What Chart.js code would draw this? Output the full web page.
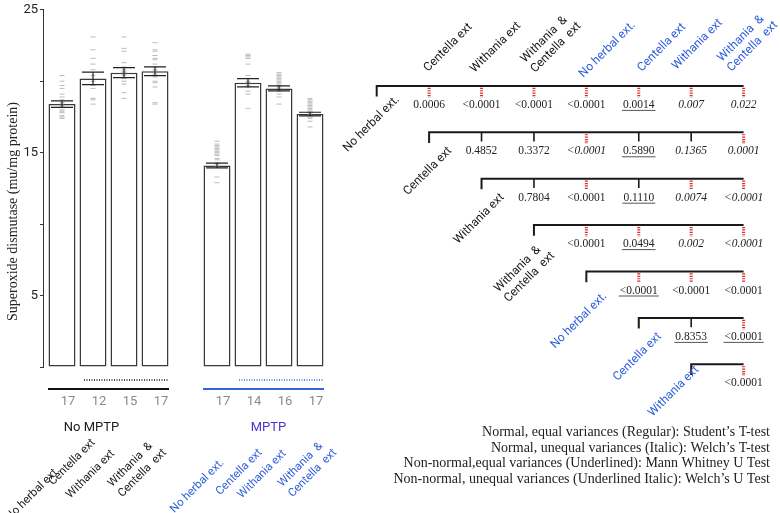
<!DOCTYPE html>
<html>
<head>
<meta charset="utf-8">
<script src="https://cdn.jsdelivr.net/npm/chart.js@4/dist/chart.umd.min.js"></script>
<style>
html, body { margin: 0; padding: 0; background: #fff; }
#wrap { position: relative; width: 780px; height: 513px; }
canvas { position: absolute; left: 0; top: 0; }
</style>
</head>
<body>
<div id="wrap">
<canvas id="barChart" width="780" height="513"></canvas>
<canvas id="pChart" width="780" height="513"></canvas>
</div>
<script>
let groups = ["No MPTP", "MPTP"]
let treatments = [["No herbal ext."], ["Centella ext"], ["Withania ext"], ["Withania  &", "Centella  ext"]]
let yTickLabels = [5, 15, 25]

// superoxide dismutase, mean and sem per treatment
let meanNoMptp = [18.4, 20.2, 20.6, 20.7]
let meanMptp = [14.1, 19.9, 19.5, 17.7]
let semNoMptp = [0.23, 0.44, 0.35, 0.31]
let semMptp = [0.17, 0.29, 0.17, 0.13]
let nNoMptp = [17, 12, 15, 17]
let nMptp = [17, 14, 16, 17]

// single animals
let pointsNoMptp = [
    [20.4, 20.0, 19.7, 19.5, 19.1, 18.9, 18.7, 18.5, 18.4, 18.3, 18.2, 18.0, 17.9, 17.8, 17.6, 17.5, 17.4],
    [23.1, 22.2, 21.6, 21.2, 20.8, 20.4, 20.0, 19.7, 19.5, 18.8, 18.7, 18.4],
    [23.1, 22.3, 22.1, 21.3, 21.0, 20.8, 20.7, 20.6, 20.5, 20.4, 20.2, 20.0, 19.8, 19.2, 18.8],
    [22.7, 22.2, 22.1, 21.8, 21.6, 21.5, 21.2, 21.0, 20.8, 20.7, 20.5, 20.3, 20.0, 19.9, 19.6, 18.5, 18.4]
]
let pointsMptp = [
    [15.8, 15.6, 15.5, 15.4, 15.3, 15.2, 15.1, 15.0, 14.9, 14.8, 14.6, 14.5, 14.3, 14.2, 14.0, 13.3, 12.9],
    [21.9, 21.8, 21.7, 21.6, 21.2, 20.4, 20.2, 20.0, 19.9, 19.7, 19.6, 19.3, 19.1, 18.1],
    [20.6, 20.5, 20.4, 20.3, 20.2, 20.1, 20.0, 19.9, 19.8, 19.7, 19.6, 19.5, 19.3, 19.1, 18.9, 18.4],
    [18.8, 18.7, 18.6, 18.5, 18.4, 18.3, 18.2, 18.1, 18.0, 17.9, 17.8, 17.7, 17.6, 17.5, 17.4, 17.2, 16.8]
]

// pairwise p values, row r compared with every later group
let pValues = [
    ["0.0006", "<0.0001", "<0.0001", "<0.0001", "0.0014", "0.007", "0.022"],
    ["0.4852", "0.3372", "<0.0001", "0.5890", "0.1365", "0.0001"],
    ["0.7804", "<0.0001", "0.1110", "0.0074", "<0.0001"],
    ["<0.0001", "0.0494", "0.002", "<0.0001"],
    ["<0.0001", "<0.0001", "<0.0001"],
    ["0.8353", "<0.0001"],
    ["<0.0001"]
]
// r = Student, i = Welch, u = Mann Whitney, ui = Welch's U
let pTests = [
    ["r", "r", "r", "r", "u", "i", "i"],
    ["r", "r", "i", "u", "i", "i"],
    ["r", "r", "u", "i", "i"],
    ["r", "u", "i", "i"],
    ["u", "r", "r"],
    ["u", "u"],
    ["r"]
]
let legendLines = [
    "Normal, equal variances (Regular): Student\u2019s T-test",
    "Normal, unequal variances (Italic): Welch\u2019s T-test",
    "Non-normal,equal variances (Underlined): Mann Whitney U Test",
    "Non-normal, unequal variances (Underlined Italic): Welch\u2019s U Test"
]

const BLACK = "#1a1a1a"
const BLUE = "#2d5fda"
const groupColors = [BLACK, BLUE]
const groupLineColors = ["#111111", "#3563dd"]
const groupNameColors = [BLACK, "#4a35cf"]
const SANS = "Roboto"
const SERIF = "\"Liberation Serif\""

let means = [meanNoMptp, meanMptp]
let sems = [semNoMptp, semMptp]
let ns = [nNoMptp, nMptp]
let pts = [pointsNoMptp, pointsMptp]

function slot(g, t) { return g * 5 + t }

let barData = []
let dotData = []
for (let g = 0; g < groups.length; g++) {
    for (let t = 0; t < treatments.length; t++) {
        barData.push({x: slot(g, t), y: means[g][t]})
        pts[g][t].forEach(v => dotData.push({x: slot(g, t), y: v}))
    }
}

// lines of a rotated label stacked upward; anchor is start (left) or end (right) of last line
function drawRotated(ctx, lines, x, y, align, lh) {
    ctx.save()
    ctx.translate(x, y)
    ctx.rotate(-Math.PI / 4)
    let last = lines[lines.length - 1]
    let start = align === "right" ? -ctx.measureText(last).width : 0
    ctx.textAlign = "left"
    ctx.textBaseline = "alphabetic"
    lines.forEach((s, i) => ctx.fillText(s, start, -(lines.length - 1 - i) * lh))
    ctx.restore()
}

let barLabelDx = [[-2, 2.5, -9, 11.7], [7.5, 14.5, 7.5, 27]]
let barLabelY = [[471, 443, 454, 453], [463, 453, 454, 453]]
let groupNameDx = [-17, 5]

let barExtras = {
    id: "barExtras",
    afterDatasetsDraw(chart) {
        let ctx = chart.ctx
        let xs = chart.scales.x
        let ys = chart.scales.y
        ctx.save()
        // sem whiskers
        ctx.strokeStyle = "#222"
        ctx.lineWidth = 1.2
        for (let g = 0; g < groups.length; g++) {
            for (let t = 0; t < treatments.length; t++) {
                let x = xs.getPixelForValue(slot(g, t))
                let hi = ys.getPixelForValue(means[g][t] + sems[g][t])
                let lo = ys.getPixelForValue(means[g][t] - sems[g][t])
                ctx.beginPath()
                ctx.moveTo(x - 11, hi); ctx.lineTo(x + 11, hi)
                ctx.moveTo(x - 11, lo); ctx.lineTo(x + 11, lo)
                ctx.moveTo(x, hi); ctx.lineTo(x, lo)
                ctx.stroke()
            }
        }
        for (let g = 0; g < groups.length; g++) {
            let x0 = xs.getPixelForValue(slot(g, 0)) - 14
            let x1 = xs.getPixelForValue(slot(g, 3)) + 14
            let xd = xs.getPixelForValue(slot(g, 1)) - 9
            ctx.strokeStyle = groupLineColors[g]
            ctx.lineWidth = 2
            ctx.setLineDash([])
            ctx.beginPath(); ctx.moveTo(x0, 389); ctx.lineTo(x1, 389); ctx.stroke()
            ctx.lineWidth = 1.3
            ctx.setLineDash([1, 1.5])
            ctx.beginPath(); ctx.moveTo(xd, 380); ctx.lineTo(x1, 380); ctx.stroke()
            ctx.setLineDash([])

            ctx.fillStyle = "#8a8a8a"
            ctx.font = "13px " + SANS
            ctx.textAlign = "center"
            ctx.textBaseline = "middle"
            for (let t = 0; t < treatments.length; t++) {
                ctx.fillText(String(ns[g][t]), xs.getPixelForValue(slot(g, t)) + 6, 402)
            }
            let mid = (xs.getPixelForValue(slot(g, 0)) + xs.getPixelForValue(slot(g, 3))) / 2
            ctx.fillStyle = groupNameColors[g]
            ctx.font = "13px " + SANS
            ctx.fillText(groups[g], mid + groupNameDx[g], 428)

            ctx.fillStyle = groupColors[g]
            ctx.font = "11.5px " + SANS
            for (let t = 0; t < treatments.length; t++) {
                let x = xs.getPixelForValue(slot(g, t)) + barLabelDx[g][t]
                drawRotated(ctx, treatments[t], x, barLabelY[g][t], "right", 14.5)
            }
        }
        // axis title
        ctx.fillStyle = "#222"
        ctx.font = "14px " + SERIF
        ctx.textAlign = "center"
        ctx.textBaseline = "middle"
        ctx.translate(13.5, 211.5)
        ctx.rotate(-Math.PI / 2)
        ctx.fillText("Superoxide dismutase (mu/mg protein)", 0, 0)
        ctx.restore()
    }
}

new Chart(document.getElementById("barChart"), {
    type: "bar",
    data: {
        datasets: [
            {
                type: "scatter",
                label: "animals",
                data: dotData,
                pointStyle: "line",
                pointRadius: 2.5,
                borderColor: "rgba(150, 150, 150, 0.65)",
                borderWidth: 1,
                order: 0
            },
            {
                label: "mean",
                data: barData,
                backgroundColor: "#ffffff",
                borderColor: "#3a3a3a",
                borderWidth: 1.5,
                borderSkipped: false,
                barPercentage: 0.87,
                categoryPercentage: 1,
                order: 1
            }
        ]
    },
    options: {
        responsive: false,
        animation: false,
        events: [],
        layout: {padding: {left: 0, right: 450, top: 7, bottom: 146}},
        plugins: {legend: {display: false}, tooltip: {enabled: false}},
        scales: {
            x: {type: "linear", offset: false, min: -0.613, max: 8.645, display: false},
            y: {
                min: 0,
                max: 25,
                ticks: {
                    stepSize: 5,
                    color: "#222",
                    font: {family: SANS, size: 13},
                    padding: 2,
                    callback: v => yTickLabels.includes(v) ? String(v) : ""
                },
                grid: {drawOnChartArea: false, drawTicks: true, tickLength: 3, color: "#333"},
                border: {color: "#333", width: 1},
                afterFit: s => { s.width = 43 }
            }
        }
    },
    plugins: [barExtras]
})

// ---- comparison matrix ----
let nComp = groups.length * treatments.length
function compLabel(i) { return treatments[i % treatments.length] }
function compColor(i) { return groupColors[Math.floor(i / treatments.length)] }
function isSig(p) { return parseFloat(p.replace("<", "")) < 0.05 }

let bracketPts = []
let nsPts = []
let sigPts = []
for (let r = 0; r < nComp - 1; r++) {
    bracketPts.push({x: r, y: r + 0.23}, {x: r, y: r}, {x: nComp - 1, y: r}, {x: nComp - 1, y: null})
    pValues[r].forEach((p, j) => {
        let c = r + 1 + j
        if (isSig(p)) sigPts.push({x: c, y: r + 0.04}, {x: c, y: r + 0.25}, {x: c, y: null})
        else nsPts.push({x: c, y: r}, {x: c, y: r + 0.2}, {x: c, y: null})
    })
}

let hdrDx = [-1, -7, 1, -3, 3, -15, -12]
let hdrDy = [-14, -13, -13, -8, -14, -16, -14]
let rowDx = [23, 23, 23, 21, 21, 23, 8]
let rowDy = [14, 19, 19, 31, 25, 19, 6]

let matrixText = {
    id: "matrixText",
    afterDatasetsDraw(chart) {
        let ctx = chart.ctx
        let xs = chart.scales.x
        let ys = chart.scales.y
        ctx.save()
        ctx.font = "12px " + SANS
        // column heads
        for (let c = 1; c < nComp; c++) {
            ctx.fillStyle = compColor(c)
            drawRotated(ctx, compLabel(c), xs.getPixelForValue(c) + hdrDx[c - 1], ys.getPixelForValue(0) + hdrDy[c - 1], "left", 14)
        }
        // row heads
        for (let r = 0; r < nComp - 1; r++) {
            ctx.fillStyle = compColor(r)
            drawRotated(ctx, compLabel(r), xs.getPixelForValue(r) + rowDx[r], ys.getPixelForValue(r) + rowDy[r], "right", 14)
        }
        // p values
        ctx.textAlign = "center"
        ctx.textBaseline = "middle"
        pValues.forEach((row, r) => {
            row.forEach((p, j) => {
                let c = r + 1 + j
                let style = pTests[r][j]
                let x = xs.getPixelForValue(c)
                let y = ys.getPixelForValue(r) + 19
                ctx.font = (style.includes("i") ? "italic " : "") + "11.5px " + SERIF
                ctx.fillStyle = "#222"
                ctx.fillText(p, x, y)
                if (style.includes("u")) {
                    let w = ctx.measureText(p).width
                    ctx.strokeStyle = "#555"
                    ctx.lineWidth = 1
                    ctx.beginPath()
                    ctx.moveTo(x - w / 2 - 1, y + 5.5)
                    ctx.lineTo(x + w / 2 + 1, y + 5.5)
                    ctx.stroke()
                }
            })
        })
        // legend of tests
        ctx.font = "14px " + SERIF
        ctx.fillStyle = "#222"
        ctx.textAlign = "right"
        legendLines.forEach((s, i) => ctx.fillText(s, 770, 432.5 + i * 15.5))
        ctx.restore()
    }
}

new Chart(document.getElementById("pChart"), {
    type: "line",
    data: {
        datasets: [
            {label: "brackets", data: bracketPts, borderColor: "#1a1a1a", borderWidth: 2, pointRadius: 0, spanGaps: false, clip: false},
            {label: "ns", data: nsPts, borderColor: "#1a1a1a", borderWidth: 1.6, pointRadius: 0, spanGaps: false, clip: false},
            {label: "sig", data: sigPts, borderColor: "#e02828", borderWidth: 3, borderDash: [1.2, 1.2], pointRadius: 0, spanGaps: false, clip: false}
        ]
    },
    options: {
        responsive: false,
        animation: false,
        events: [],
        layout: {padding: {left: 376.7, right: 36.4, top: 85.9, bottom: 148.7}},
        plugins: {legend: {display: false}, tooltip: {enabled: false}},
        scales: {
            x: {type: "linear", min: 0, max: nComp - 1, display: false},
            y: {type: "linear", min: 0, max: nComp - 2, reverse: true, display: false}
        }
    },
    plugins: [matrixText]
})
</script>
</body>
</html>
